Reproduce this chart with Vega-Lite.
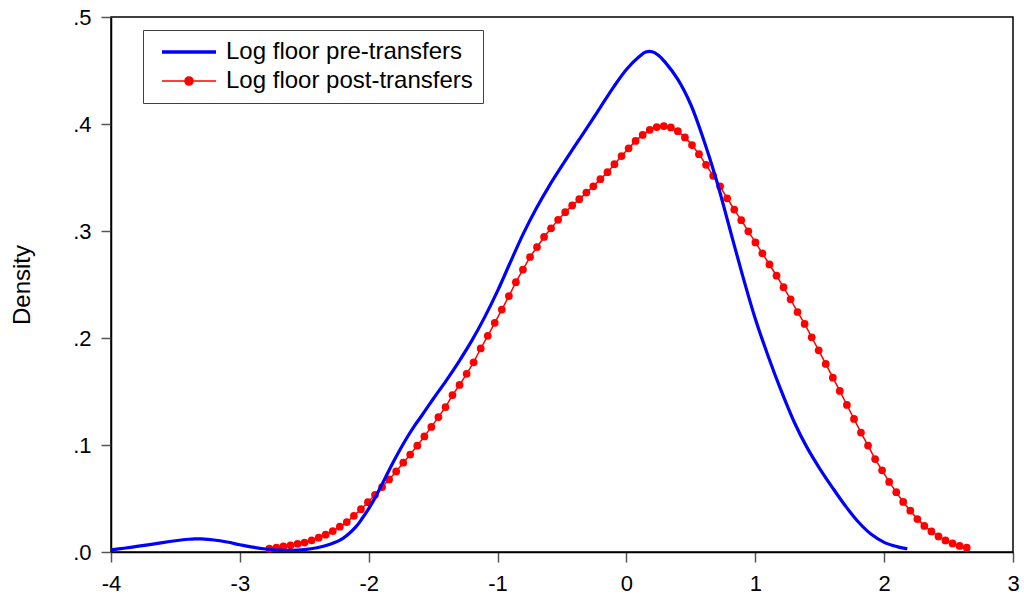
{
  "$schema": "https://vega.github.io/schema/vega-lite/v6.json",
  "width": 902,
  "height": 535,
  "autosize": {"type": "none"},
  "padding": {"left": 111, "top": 17, "right": 11, "bottom": 49},
  "background": "white",
  "config": {
    "view": {"stroke": "black", "strokeWidth": 1.5},
    "font": "Liberation Sans",
    "axis": {
      "grid": false,
      "domainColor": "black",
      "domainWidth": 1.5,
      "tickColor": "#555555",
      "tickWidth": 1.5,
      "tickSize": 10,
      "labelFont": "Liberation Sans",
      "labelFontSize": 22,
      "labelColor": "black",
      "titleFont": "Liberation Sans",
      "titleFontSize": 24,
      "titleFontWeight": "normal",
      "titleColor": "black"
    }
  },
  "datasets": {
    "pre": [
      {"x": -4.0, "y": 0.0020}, {"x": -3.9, "y": 0.0035}, {"x": -3.8, "y": 0.0052}, {"x": -3.7, "y": 0.0069},
      {"x": -3.6, "y": 0.0088}, {"x": -3.5, "y": 0.0105}, {"x": -3.4, "y": 0.0119}, {"x": -3.35, "y": 0.0123},
      {"x": -3.3, "y": 0.0122}, {"x": -3.2, "y": 0.0112}, {"x": -3.1, "y": 0.0093}, {"x": -3.0, "y": 0.0068},
      {"x": -2.9, "y": 0.0045}, {"x": -2.8, "y": 0.0028}, {"x": -2.7, "y": 0.0018}, {"x": -2.6, "y": 0.0015},
      {"x": -2.5, "y": 0.0022}, {"x": -2.4, "y": 0.0040}, {"x": -2.3, "y": 0.0072}, {"x": -2.2, "y": 0.0128},
      {"x": -2.1, "y": 0.0235}, {"x": -2.05, "y": 0.0315}, {"x": -2.0, "y": 0.0405}, {"x": -1.95, "y": 0.0508},
      {"x": -1.9, "y": 0.0625}, {"x": -1.85, "y": 0.0745}, {"x": -1.8, "y": 0.0862}, {"x": -1.75, "y": 0.0972},
      {"x": -1.7, "y": 0.1075}, {"x": -1.65, "y": 0.1170}, {"x": -1.6, "y": 0.1255}, {"x": -1.5, "y": 0.1430},
      {"x": -1.4, "y": 0.1600}, {"x": -1.3, "y": 0.1780}, {"x": -1.2, "y": 0.1975}, {"x": -1.1, "y": 0.2195},
      {"x": -1.0, "y": 0.2440}, {"x": -0.9, "y": 0.2710}, {"x": -0.8, "y": 0.2975}, {"x": -0.7, "y": 0.3210},
      {"x": -0.6, "y": 0.3420}, {"x": -0.5, "y": 0.3610}, {"x": -0.4, "y": 0.3795}, {"x": -0.3, "y": 0.3975},
      {"x": -0.2, "y": 0.4160}, {"x": -0.1, "y": 0.4345}, {"x": 0.0, "y": 0.4510}, {"x": 0.1, "y": 0.4630},
      {"x": 0.15, "y": 0.4672}, {"x": 0.2, "y": 0.4675}, {"x": 0.25, "y": 0.4640}, {"x": 0.3, "y": 0.4578},
      {"x": 0.4, "y": 0.4415}, {"x": 0.5, "y": 0.4180}, {"x": 0.6, "y": 0.3850}, {"x": 0.7, "y": 0.3470},
      {"x": 0.8, "y": 0.3030}, {"x": 0.9, "y": 0.2590}, {"x": 1.0, "y": 0.2180}, {"x": 1.1, "y": 0.1830},
      {"x": 1.2, "y": 0.1510}, {"x": 1.3, "y": 0.1220}, {"x": 1.4, "y": 0.0980}, {"x": 1.5, "y": 0.0780},
      {"x": 1.6, "y": 0.0600}, {"x": 1.7, "y": 0.0430}, {"x": 1.8, "y": 0.0280}, {"x": 1.9, "y": 0.0165},
      {"x": 2.0, "y": 0.0090}, {"x": 2.1, "y": 0.0050}, {"x": 2.18, "y": 0.0030}
    ],
    "post": [
      {"x": -2.771, "y": 0.0031}, {"x": -2.716, "y": 0.0042}, {"x": -2.662, "y": 0.0052}, {"x": -2.607, "y": 0.0062},
      {"x": -2.552, "y": 0.0076}, {"x": -2.498, "y": 0.0088}, {"x": -2.443, "y": 0.0109}, {"x": -2.388, "y": 0.0134},
      {"x": -2.334, "y": 0.0162}, {"x": -2.279, "y": 0.0196}, {"x": -2.224, "y": 0.0237}, {"x": -2.170, "y": 0.0280},
      {"x": -2.115, "y": 0.0338}, {"x": -2.060, "y": 0.0400}, {"x": -2.006, "y": 0.0465}, {"x": -1.951, "y": 0.0534},
      {"x": -1.896, "y": 0.0607}, {"x": -1.842, "y": 0.0678}, {"x": -1.787, "y": 0.0753}, {"x": -1.732, "y": 0.0835},
      {"x": -1.678, "y": 0.0911}, {"x": -1.623, "y": 0.0994}, {"x": -1.568, "y": 0.1080}, {"x": -1.514, "y": 0.1169},
      {"x": -1.459, "y": 0.1261}, {"x": -1.404, "y": 0.1355}, {"x": -1.350, "y": 0.1467}, {"x": -1.295, "y": 0.1561},
      {"x": -1.240, "y": 0.1665}, {"x": -1.186, "y": 0.1773}, {"x": -1.131, "y": 0.1902}, {"x": -1.076, "y": 0.2020},
      {"x": -1.022, "y": 0.2142}, {"x": -0.967, "y": 0.2266}, {"x": -0.912, "y": 0.2392}, {"x": -0.858, "y": 0.2522},
      {"x": -0.803, "y": 0.2640}, {"x": -0.748, "y": 0.2757}, {"x": -0.694, "y": 0.2850}, {"x": -0.639, "y": 0.2944},
      {"x": -0.585, "y": 0.3025}, {"x": -0.530, "y": 0.3104}, {"x": -0.475, "y": 0.3176}, {"x": -0.421, "y": 0.3239},
      {"x": -0.366, "y": 0.3297}, {"x": -0.311, "y": 0.3359}, {"x": -0.257, "y": 0.3418}, {"x": -0.202, "y": 0.3484},
      {"x": -0.147, "y": 0.3550}, {"x": -0.093, "y": 0.3624}, {"x": -0.038, "y": 0.3700}, {"x": 0.017, "y": 0.3773},
      {"x": 0.071, "y": 0.3842}, {"x": 0.126, "y": 0.3898}, {"x": 0.181, "y": 0.3946}, {"x": 0.235, "y": 0.3971},
      {"x": 0.290, "y": 0.3981}, {"x": 0.345, "y": 0.3968}, {"x": 0.399, "y": 0.3933}, {"x": 0.454, "y": 0.3875},
      {"x": 0.509, "y": 0.3803}, {"x": 0.563, "y": 0.3718}, {"x": 0.618, "y": 0.3618}, {"x": 0.673, "y": 0.3516},
      {"x": 0.727, "y": 0.3418}, {"x": 0.782, "y": 0.3306}, {"x": 0.837, "y": 0.3200}, {"x": 0.891, "y": 0.3101},
      {"x": 0.946, "y": 0.2997}, {"x": 1.001, "y": 0.2893}, {"x": 1.055, "y": 0.2791}, {"x": 1.110, "y": 0.2687},
      {"x": 1.165, "y": 0.2582}, {"x": 1.219, "y": 0.2475}, {"x": 1.274, "y": 0.2361}, {"x": 1.328, "y": 0.2243},
      {"x": 1.383, "y": 0.2131}, {"x": 1.438, "y": 0.2007}, {"x": 1.492, "y": 0.1885}, {"x": 1.547, "y": 0.1758},
      {"x": 1.602, "y": 0.1629}, {"x": 1.656, "y": 0.1505}, {"x": 1.711, "y": 0.1374}, {"x": 1.766, "y": 0.1244},
      {"x": 1.820, "y": 0.1116}, {"x": 1.875, "y": 0.0995}, {"x": 1.930, "y": 0.0868}, {"x": 1.984, "y": 0.0763},
      {"x": 2.039, "y": 0.0655}, {"x": 2.094, "y": 0.0559}, {"x": 2.148, "y": 0.0468}, {"x": 2.203, "y": 0.0386},
      {"x": 2.258, "y": 0.0308}, {"x": 2.312, "y": 0.0244}, {"x": 2.367, "y": 0.0192}, {"x": 2.422, "y": 0.0145},
      {"x": 2.476, "y": 0.0108}, {"x": 2.531, "y": 0.0080}, {"x": 2.586, "y": 0.0057}, {"x": 2.641, "y": 0.0040}
    ]
  },
  "encoding": {
    "x": {
      "field": "x", "type": "quantitative",
      "scale": {"domain": [-4, 3], "nice": false, "zero": false},
      "axis": {
        "values": [-4, -3, -2, -1, 0, 1, 2, 3],
        "title": null,
        "labelPadding": 11,
        "labelFlush": false,
        "labelExpr": "'' + datum.value"
      }
    },
    "y": {
      "field": "y", "type": "quantitative",
      "scale": {"domain": [0, 0.5], "nice": false},
      "axis": {
        "values": [0, 0.1, 0.2, 0.3, 0.4, 0.5],
        "title": "Density",
        "titlePadding": 38,
        "labelPadding": 10,
        "labelFlush": false,
        "labelExpr": "replace(format(datum.value, '.1f'), '0.', '.')"
      }
    }
  },
  "layer": [
    {
      "data": {"name": "post"},
      "mark": {"type": "line", "strokeWidth": 1.5, "interpolate": "linear"},
      "encoding": {
        "color": {
          "datum": "Log floor post-transfers",
          "scale": {
            "domain": ["Log floor pre-transfers", "Log floor post-transfers"],
            "range": ["#0000ff", "#ff0000"]
          },
          "legend": {
            "orient": "none",
            "legendX": 32,
            "legendY": 13,
            "title": null,
            "fillColor": "white",
            "strokeColor": "#404040",
            "padding": 10,
            "symbolOffset": 24,
            "rowPadding": 5,
            "labelFont": "Liberation Sans",
            "labelFontSize": 24,
            "labelColor": "black",
            "labelOffset": 25,
            "labelLimit": 400,
            "symbolSize": 324,
            "symbolType": "M-3,0H3",
            "symbolStrokeWidth": 3.5,
            "encode": {
              "symbols": {
                "update": {
                  "shape": {"signal": "datum.value === 'Log floor post-transfers' ? 'M-3,0H3M0.45,0A0.45,0.45,0,1,1,-0.45,0A0.45,0.45,0,1,1,0.45,0Z' : 'M-3,0H3'"},
                  "fill": {"signal": "datum.value === 'Log floor post-transfers' ? '#ff0000' : 'transparent'"},
                  "stroke": {"signal": "datum.value === 'Log floor post-transfers' ? '#ff0000' : '#0000ff'"},
                  "strokeWidth": {"signal": "datum.value === 'Log floor post-transfers' ? 1.5 : 3.5"},
                  "opacity": {"value": 1}
                }
              }
            }
          }
        }
      }
    },
    {
      "data": {"name": "post"},
      "mark": {"type": "point", "filled": true, "size": 60, "opacity": 1},
      "encoding": {
        "color": {"datum": "Log floor post-transfers"}
      }
    },
    {
      "data": {"name": "pre"},
      "mark": {"type": "line", "strokeWidth": 3.2, "interpolate": "catmull-rom"},
      "encoding": {
        "color": {"datum": "Log floor pre-transfers"}
      }
    }
  ]
}
